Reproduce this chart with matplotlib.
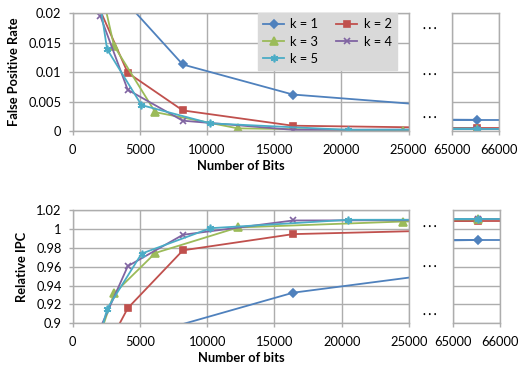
import matplotlib
matplotlib.use("Agg")
import matplotlib.pyplot as plt

plt.rcParams['font.family'] = ['Lato', 'DejaVu Sans']

# ---------------- data ----------------
labels = ["k = 1", "k = 2", "k = 3", "k = 4", "k = 5"]
colors = ["#4F81BD", "#C0504D", "#9BBB59", "#8064A2", "#4BACC6"]
markers = ["D", "s", "^", "x", (6, 2, 0)]
msizes = [4, 5, 5.5, 5, 5.5]

# False positive rate
fpr_x = [
    [2048, 4096, 8192, 16384, 32768, 65536],
    [2048, 4096, 8192, 16384, 32768, 65536],
    [1536, 3072, 6144, 12288, 24576, 65536],
    [2048, 4096, 8192, 16384, 65536],
    [1280, 2560, 5120, 10240, 20480, 65536],
]
fpr_y = [
    [0.045, 0.0216, 0.0113, 0.0062, 0.0033, 0.0019],
    [0.0205, 0.0099, 0.0035, 0.0009, 0.0004, 0.0005],
    [0.030, 0.0145, 0.0032, 0.00045, 0.00005, 0.0004],
    [0.0196, 0.0070, 0.00175, 0.0002, 0.0004],
    [0.033, 0.0139, 0.0044, 0.0013, 0.0002, 0.0004],
]

# Relative IPC
ipc_x = [
    [4096, 8192, 16384, 32768, 65536],
    [2048, 4096, 8192, 16384, 32768, 65536],
    [1536, 3072, 6144, 12288, 24576, 65536],
    [2048, 4096, 8192, 16384, 65536],
    [1280, 2560, 5120, 10240, 20480, 65536],
]
ipc_y = [
    [0.85, 0.8992, 0.9325, 0.963, 0.9885],
    [0.861, 0.9161, 0.9775, 0.9947, 1.0005, 1.0089],
    [0.867, 0.9317, 0.9747, 1.0018, 1.0081, 1.0103],
    [0.895, 0.9607, 0.9940, 1.0092, 1.0106],
    [0.845, 0.9154, 0.9740, 1.0010, 1.0099, 1.0106],
]

main_xticks = [0, 5000, 10000, 15000, 20000, 25000]
side_xticks = [65000, 66000]
fpr_yticks = [0, 0.005, 0.01, 0.015, 0.02]
fpr_yticklabels = ["0", "0.005", "0.01", "0.015", "0.02"]
ipc_yticks = [0.9, 0.92, 0.94, 0.96, 0.98, 1.0, 1.02]
ipc_yticklabels = ["0.9", "0.92", "0.94", "0.96", "0.98", "1", "1.02"]

# ---------------- figure ----------------
W, H = 522, 372
fig = plt.figure(figsize=(W / 100, H / 100), dpi=100)

def fa(l, t, r, b):
    return fig.add_axes([l / W, 1 - b / H, (r - l) / W, (b - t) / H])

ax1 = fa(72.7, 13.3, 408.5, 131)
ax1r = fa(451.7, 13.3, 498.7, 131)
ax2 = fa(72.7, 210.3, 409, 323.3)
ax2r = fa(453, 210.3, 500, 323.3)

GRID = "#ADADAD"
FS = 9.3

def style(ax, side=False):
    ax.set_axisbelow(True)
    ax.grid(True, color=GRID, linewidth=1.0)
    for s in ax.spines.values():
        s.set_color(GRID)
        s.set_linewidth(1.0)
    ax.tick_params(axis='both', colors=GRID, labelcolor='black',
                   labelsize=FS, length=3, width=1.0, direction='out')
    ax.tick_params(axis='x', pad=6)
    ax.tick_params(axis='y', pad=5)
    if side:
        ax.tick_params(axis='y', length=0, labelleft=False)

def plot_series(ax, xs, ys, ylim, side=False):
    handles = []
    lo, hi = ylim
    for i in range(len(xs)):
        shown = [j for j, v in enumerate(ys[i]) if lo <= v <= hi]
        h, = ax.plot(xs[i], ys[i], color=colors[i], marker=markers[i],
                     markersize=msizes[i], markeredgewidth=1.2, linewidth=1.3,
                     label=labels[i], clip_on=True, markevery=shown)
        handles.append(h)
        if side:
            ax.axhline(ys[i][-1], color=colors[i], linewidth=1.3)
    return handles

# top
FPR_LIM = (0, 0.02)
style(ax1)
hs = plot_series(ax1, fpr_x, fpr_y, FPR_LIM)
ax1.set_xlim(0, 25000)
ax1.set_ylim(*FPR_LIM)
ax1.set_xticks(main_xticks)
ax1.set_yticks(fpr_yticks)
ax1.set_yticklabels(fpr_yticklabels)
ax1.set_xlabel("Number of Bits", fontsize=FS, fontweight='bold', labelpad=3)
ax1.set_ylabel("False Positive Rate", fontsize=FS, fontweight='bold', labelpad=6)
order = [0, 2, 4, 1, 3]
leg = ax1.legend([hs[i] for i in order], [labels[i] for i in order],
                 ncol=2, loc='upper left', bbox_to_anchor=(0.552, 1.0),
                 fontsize=FS, frameon=True, facecolor="#D9D9D9",
                 edgecolor="#D9D9D9", framealpha=1, fancybox=False,
                 handlelength=1.6, columnspacing=1.4, handletextpad=0.5,
                 borderpad=0.4, labelspacing=0.4, borderaxespad=0)

style(ax1r, side=True)
plot_series(ax1r, fpr_x, fpr_y, FPR_LIM, side=True)
ax1r.set_xlim(65000, 66000)
ax1r.set_ylim(*FPR_LIM)
ax1r.set_xticks(side_xticks)
ax1r.set_yticks(fpr_yticks)

# bottom
IPC_LIM = (0.9, 1.02)
style(ax2)
plot_series(ax2, ipc_x, ipc_y, IPC_LIM)
ax2.set_xlim(0, 25000)
ax2.set_ylim(*IPC_LIM)
ax2.set_xticks(main_xticks)
ax2.set_yticks(ipc_yticks)
ax2.set_yticklabels(ipc_yticklabels)
ax2.set_xlabel("Number of bits", fontsize=FS, fontweight='bold', labelpad=3)
ax2.set_ylabel("Relative IPC", fontsize=FS, fontweight='bold', labelpad=6)

style(ax2r, side=True)
plot_series(ax2r, ipc_x, ipc_y, IPC_LIM, side=True)
ax2r.set_xlim(65000, 66000)
ax2r.set_ylim(*IPC_LIM)
ax2r.set_xticks(side_xticks)
ax2r.set_yticks(ipc_yticks)

# ellipsis marks between panels
for yy in [28, 75, 118, 226, 267, 314]:
    fig.text(430 / W, 1 - yy / H, "\u2022  \u2022  \u2022", fontsize=3.5,
             ha='center', va='center', color='black')

fig.savefig("out.png", dpi=100)
